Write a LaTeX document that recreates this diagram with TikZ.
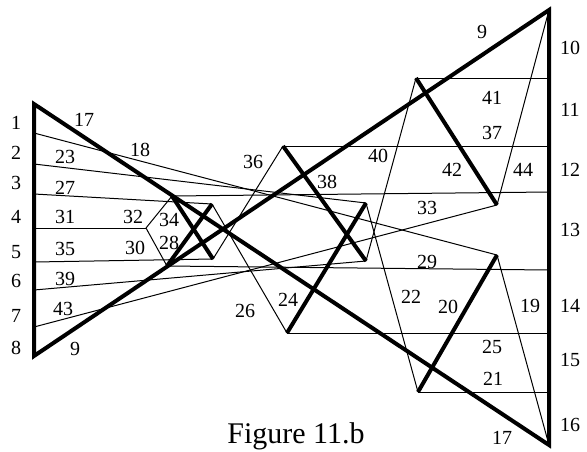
\documentclass[tikz,border=0pt]{standalone}
\usepackage{fontspec}
\setmainfont{Liberation Serif}
\begin{document}
\begin{tikzpicture}[x=1pt,y=-1pt,
  thin line/.style={line width=1pt},
  heavy/.style={line width=4pt},
  lab/.style={inner sep=0pt,font=\fontsize{20}{22}\selectfont},
  captext/.style={inner sep=0pt,anchor=base,font=\fontsize{30}{33}\selectfont}]
\useasboundingbox[fill=white] (0,0) rectangle (587,451);
\clip (0,0) rectangle (587,451);
% frame corners
\coordinate (P1) at (34,104);
\coordinate (P9) at (34,356);
\coordinate (Q10) at (549,10);
\coordinate (Q16) at (549,445);
% left side points
\coordinate (a2) at (34,133);
\coordinate (a3) at (34,164);
\coordinate (a4) at (34,194);
\coordinate (a5) at (34,228);
\coordinate (a6) at (34,262);
\coordinate (a7) at (34,290);
\coordinate (a8) at (34,327);
% right side points
\coordinate (b1) at (549,78);
\coordinate (b2) at (549,146);
\coordinate (b3) at (549,192);
\coordinate (b4) at (549,270);
\coordinate (b5) at (549,333);
\coordinate (b6) at (549,392);
% inner vertices
\coordinate (V1) at (497,255);
\coordinate (V2) at (418,392);
\coordinate (V3) at (366,203);
\coordinate (V4) at (287,333);
\coordinate (V5) at (212,204);
\coordinate (V6) at (167,266);
\coordinate (V7) at (146,228);
\coordinate (V8) at (172,196);
\coordinate (V9) at (213,259);
\coordinate (V10) at (283,146);
\coordinate (V11) at (366,261);
\coordinate (V12) at (416,78);
\coordinate (V13) at (497,205);
% thin edges
\draw[thin line] (a2) -- (V1);
\draw[thin line] (V1) -- (Q16);
\draw[thin line] (V2) -- (b6);
\draw[thin line] (V2) -- (V3);
\draw[thin line] (V3) -- (a3);
\draw[thin line] (V4) -- (b5);
\draw[thin line] (V4) -- (V5);
\draw[thin line] (V5) -- (a4);
\draw[thin line] (V6) -- (b4);
\draw[thin line] (V6) -- (V7);
\draw[thin line] (V7) -- (a5);
\draw[thin line] (V7) -- (V8);
\draw[thin line] (V8) -- (b3);
\draw[thin line] (V9) -- (a6);
\draw[thin line] (V9) -- (V10);
\draw[thin line] (V10) -- (b2);
\draw[thin line] (V11) -- (a7);
\draw[thin line] (V11) -- (V12);
\draw[thin line] (V12) -- (b1);
\draw[thin line] (V13) -- (a8);
\draw[thin line] (V13) -- (Q10);
% thick edges
\draw[heavy] (V1) -- (V2);
\draw[heavy] (V3) -- (V4);
\draw[heavy] (V5) -- (V6);
\draw[heavy] (V8) -- (V9);
\draw[heavy] (V10) -- (V11);
\draw[heavy] (V12) -- (V13);
\draw[heavy] (P1) -- (Q16) -- (Q10) -- (P9) -- cycle;
% left labels
\node[lab] (l1) at (16,123) {1};
\node[lab] (l2) at (16,153) {2};
\node[lab] (l3) at (16,183) {3};
\node[lab] (l4) at (16,217) {4};
\node[lab] (l5) at (16,252) {5};
\node[lab] (l6) at (16,281) {6};
\node[lab] (l7) at (16,316) {7};
\node[lab] (l8) at (16,348) {8};
% right labels
\node[lab] (l10) at (570,48) {10};
\node[lab] (l11) at (570,110) {11};
\node[lab] (l12) at (570,170) {12};
\node[lab] (l13) at (570,230) {13};
\node[lab] (l14) at (570,306) {14};
\node[lab] (l15) at (570,360) {15};
\node[lab] (l16) at (570,425) {16};
% inner labels
\node[lab] (l17a) at (84,120) {17};
\node[lab] (l17b) at (502,438) {17};
\node[lab] (l9a) at (75,349) {9};
\node[lab] (l9b) at (482,32) {9};
\node[lab] (l18) at (140,150) {18};
\node[lab] (l19) at (530,306) {19};
\node[lab] (l20) at (448,307) {20};
\node[lab] (l21) at (493,379) {21};
\node[lab] (l22) at (411,297) {22};
\node[lab] (l23) at (65,157) {23};
\node[lab] (l24) at (288,300) {24};
\node[lab] (l25) at (492,347) {25};
\node[lab] (l26) at (245,311) {26};
\node[lab] (l27) at (65,188) {27};
\node[lab] (l28) at (169,243) {28};
\node[lab] (l29) at (427,262) {29};
\node[lab] (l30) at (135,248) {30};
\node[lab] (l31) at (65,217) {31};
\node[lab] (l32) at (133,217) {32};
\node[lab] (l33) at (427,208) {33};
\node[lab] (l34) at (169,220) {34};
\node[lab] (l35) at (65,249) {35};
\node[lab] (l36) at (253,162) {36};
\node[lab] (l37) at (492,133) {37};
\node[lab] (l38) at (327,182) {38};
\node[lab] (l39) at (65,279) {39};
\node[lab] (l40) at (378,156) {40};
\node[lab] (l41) at (492,98) {41};
\node[lab] (l42) at (452,170) {42};
\node[lab] (l43) at (63,309) {43};
\node[lab] (l44) at (523,170) {44};
\node[captext] (fig) at (296,443) {Figure 11.b};
\end{tikzpicture}
\end{document}
